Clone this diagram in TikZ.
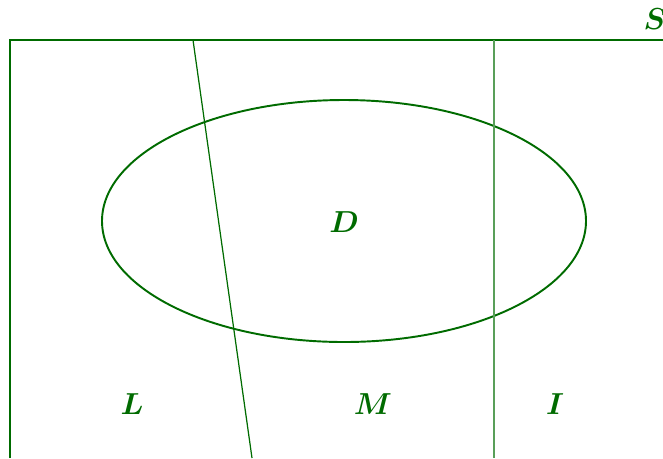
\documentclass[tikz,border=0pt]{standalone}
\usepackage{amsmath,amssymb}
\usepackage{tikz}
\usetikzlibrary{positioning,calc}
\colorlet{vgreen}{green!42!black}
\tikzset{
  frame/.style   = {line width=1.6pt, draw=vgreen},
  oval/.style    = {line width=1.1pt, draw=vgreen},
  cut/.style     = {line width=0.7pt, draw=vgreen},
  vcut/.style    = {line width=0.8pt, draw=vgreen!65},
  lbl/.style     = {text=vgreen, inner sep=1pt, font=\fontsize{16.5}{19}\selectfont},
}
\begin{document}
\begin{tikzpicture}[x=0.02cm,y=-0.02cm]
  \useasboundingbox (0,0) rectangle (663,458);
  \coordinate (tl) at (10,40);
  \coordinate (tr) at (663,40);
  \coordinate (bl) at (10,458);
  \draw[frame] (bl)--(tl)--(tr);
  \node[lbl] (s) at (655,19) {$\boldsymbol{S}$};
  \draw[oval] (344,221) ellipse [x radius=242, y radius=121];
  \node[lbl] (d) at (344,222) {$\boldsymbol{D}$};
  \coordinate (ct) at (193,40);
  \coordinate (cb) at (252,458);
  \draw[cut] (ct)--(cb);
  \coordinate (vt) at (494,40);
  \coordinate (vb) at (494,458);
  \draw[vcut] (vt)--(vb);
  \node[lbl] (l) at (132,404) {$\boldsymbol{L}$};
  \node[lbl] (m) at (373,404) {$\boldsymbol{M}$};
  \node[lbl] (i) at (555,404) {$\boldsymbol{I}$};
\end{tikzpicture}
\end{document}
